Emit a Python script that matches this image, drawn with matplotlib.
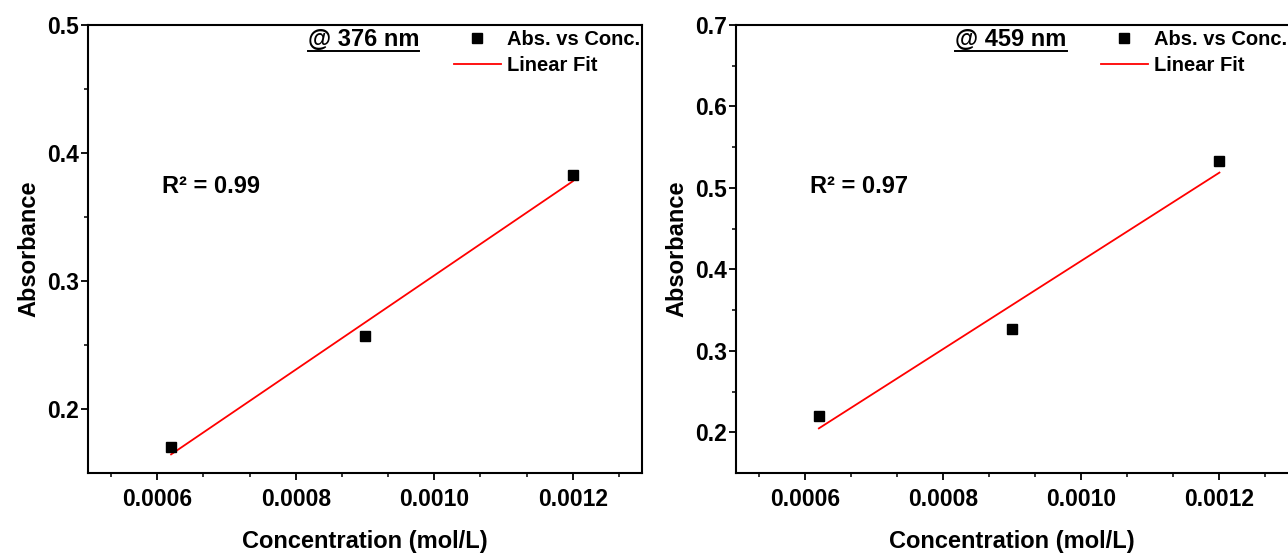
import numpy as np
import matplotlib
matplotlib.use('Agg')
import matplotlib.pyplot as plt
from matplotlib.lines import Line2D

plt.rcParams['font.family'] = ['Liberation Sans', 'DejaVu Sans']
plt.rcParams['font.weight'] = 'bold'

# absorbance vs concentration at the two wavelengths
conc = [0.00062, 0.0009, 0.0012]
abs_376 = [0.170, 0.257, 0.383]
abs_459 = [0.220, 0.327, 0.533]

wavelengths = ['376', '459']
absorbances = [abs_376, abs_459]
y_limits = [(0.15, 0.5), (0.15, 0.7)]
y_major = [[0.2, 0.3, 0.4, 0.5], [0.2, 0.3, 0.4, 0.5, 0.6, 0.7]]
y_minor = [[0.25, 0.35, 0.45], [0.25, 0.35, 0.45, 0.55, 0.65]]
x_major = [0.0006, 0.0008, 0.0010, 0.0012]
x_labels = ['0.0006', '0.0008', '0.0010', '0.0012']

W, H = 1288, 553
fig = plt.figure(figsize=(W / 100, H / 100), dpi=100)

# axes boxes in pixels: left, right, top, bottom
boxes = [(88, 642, 25, 473), (736, 1288.5, 25, 473)]


def r_squared(x, y, p):
    y = np.asarray(y)
    res = y - np.polyval(p, x)
    return 1 - np.sum(res ** 2) / np.sum((y - y.mean()) ** 2)


axes = []
for i, (wl, absb) in enumerate(zip(wavelengths, absorbances)):
    l, r, t, b = boxes[i]
    ax = fig.add_axes([l / W, (H - b) / H, (r - l) / W, (b - t) / H])
    axes.append(ax)

    # linear fit over the measured range
    p = np.polyfit(conc, absb, 1)
    x_fit = np.linspace(min(conc), max(conc), 50)
    pts, = ax.plot(conc, absb, 's', color='black', markersize=7.5,
                   label='Abs. vs Conc.', zorder=3)
    fit, = ax.plot(x_fit, np.polyval(p, x_fit), '-', color='#ff0000',
                   lw=1.3, label='Linear Fit')

    ax.set_xlim(0.0005, 0.0013)
    ax.set_ylim(*y_limits[i])
    ax.set_xticks(x_major)
    ax.set_xticklabels(x_labels)
    ax.set_xticks(np.arange(0.0005 + 0.0002 / 6, 0.0013, 0.0002 / 3), minor=True)
    ax.set_yticks(y_major[i])
    ax.set_yticks(y_minor[i], minor=True)
    ax.set_yticklabels([f'{v:.1f}' for v in y_major[i]])

    for s in ax.spines.values():
        s.set_linewidth(1.5)
    ax.tick_params(which='major', direction='out', length=4.8, width=1.3,
                   labelsize=16.5)
    ax.tick_params(which='minor', direction='out', length=3, width=1.1)
    ax.tick_params(axis='y', pad=1.5)
    ax.tick_params(axis='x', pad=6)

    ax.set_xlabel('Concentration (mol/L)', fontsize=17, fontweight='bold', labelpad=14)
    ax.set_ylabel('Absorbance', fontsize=17, fontweight='bold', labelpad=5)

    ax.text(0.134, 0.639, f'R\u00b2 = {r_squared(conc, absb, p):.2f}',
            transform=ax.transAxes, fontsize=17, fontweight='bold',
            va='center', ha='left')

    ttl = ax.text(0.397, 0.967, f'@ {wl} nm', transform=ax.transAxes,
                  fontsize=17, fontweight='bold', va='center', ha='left')
    ttl.set_gid('title')

    ax.legend(handles=[pts, fit], loc='upper left', bbox_to_anchor=(0.66, 0.988),
              frameon=False, fontsize=14.5, handlelength=2.35,
              handletextpad=0.3, labelspacing=0.35, borderpad=0,
              borderaxespad=0, numpoints=1)

# the second panel runs off the right edge, so no right frame line there
axes[1].spines['right'].set_visible(False)

# underline the wavelength labels using their drawn extents
fig.canvas.draw()
renderer = fig.canvas.get_renderer()
inv = fig.transFigure.inverted()
for ax in axes:
    for txt in ax.texts:
        if txt.get_gid() != 'title':
            continue
        bb = txt.get_window_extent(renderer)
        (x0, y0), (x1, _) = inv.transform([(bb.x0, bb.y0), (bb.x1, bb.y1)])
        y_line = y0 + 0.5 / H
        fig.add_artist(Line2D([x0, x1], [y_line, y_line], color='black', lw=1.4,
                              transform=fig.transFigure))

fig.savefig('out.png', dpi=100)
